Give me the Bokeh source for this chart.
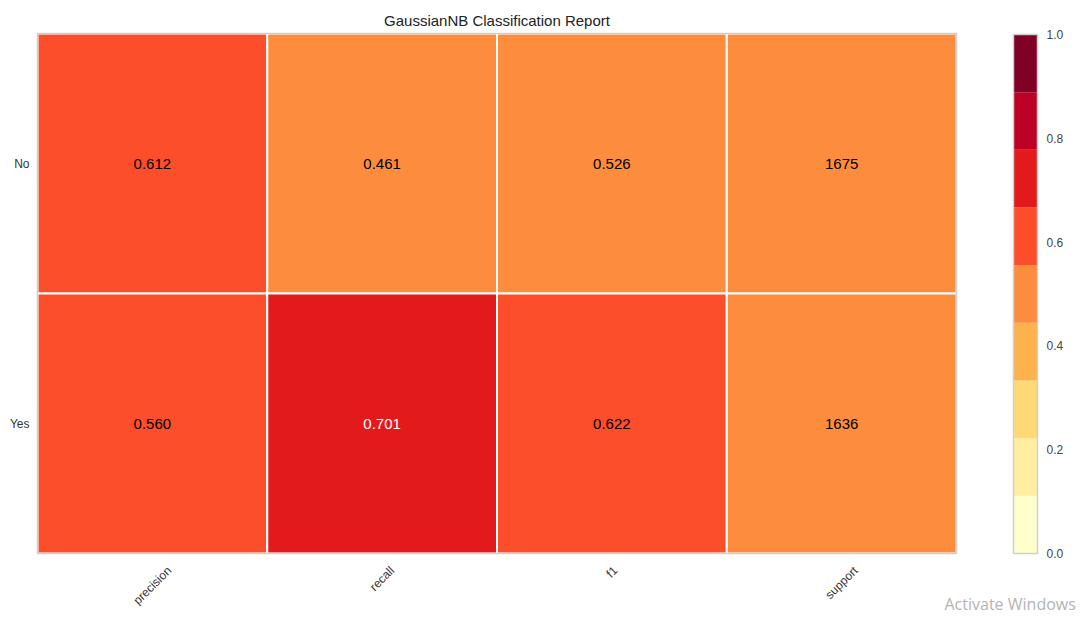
import numpy as np
from bokeh.plotting import figure
from bokeh.models import ColumnDataSource, LinearColorMapper, Range1d
from bokeh.palettes import YlOrRd9
from bokeh.core.properties import value
from bokeh.embed import file_html
from bokeh.resources import INLINE

# ---- report values -------------------------------------------------------
title_text = "GaussianNB Classification Report"
metrics = ["precision", "recall", "f1", "support"]
classes = ["No", "Yes"]
no_scores = [0.612, 0.461, 0.526, 1675]
yes_scores = [0.560, 0.701, 0.622, 1636]
cbar_ticks = [0.0, 0.2, 0.4, 0.6, 0.8, 1.0]
watermark = "Activate Windows"

FONT = "Liberation Sans"
palette = list(reversed(YlOrRd9))          # light -> dark
mapper = LinearColorMapper(palette=palette, low=0.0, high=1.0)

# ---- page geometry (pixels) ----------------------------------------------
W, H = 1089, 620
HL, HR, HT, HB = 37, 956, 33, 553          # heatmap box
CB_L, CB_R, CB_T = 1013, 1037, 34          # colour bar box
px_x = (HR - HL) / len(metrics)
px_y = (HB - HT) / len(classes)
px_c = HB - CB_T

def dx(px):
    return (px - HL) / px_x

def dy(px):
    return (HB - px) / px_y

# the drawing area covers the whole canvas; labels are drawn as glyphs
p = figure(width=W, height=H, output_backend="svg", toolbar_location=None,
           x_range=Range1d(dx(0), dx(W)), y_range=Range1d(dy(H), dy(0)),
           x_axis_location=None, y_axis_location=None,
           min_border=0, min_border_left=0, min_border_right=0,
           min_border_top=0, min_border_bottom=0)
p.extra_y_ranges = {"cbar": Range1d(-(H - HB) / px_c, 1 + CB_T / px_c)}
p.outline_line_color = None
p.grid.visible = False
p.background_fill_color = "white"
p.border_fill_color = "white"

# ---- heatmap cells -------------------------------------------------------
rows = {"No": no_scores, "Yes": yes_scores}
total_support = sum(rows[c][-1] for c in classes)

def text_color(v):
    idx = min(int(v * len(palette)), len(palette) - 1)
    c = palette[idx].lstrip("#")
    r, g, b = (int(c[i:i + 2], 16) / 255 for i in (0, 2, 4))
    lum = 0.299 * r + 0.587 * g + 0.114 * b
    return "black" if lum > 0.45 else "white"

xs, ys, norm, labels, tcol = [], [], [], [], []
for i, cls in enumerate(classes):
    row = len(classes) - 1 - i
    for j, m in enumerate(metrics):
        v = rows[cls][j]
        if m == "support":
            n = v / total_support
            lab = f"{v:d}"
        else:
            n = v
            lab = f"{v:.3f}"
        xs.append(j + 0.5)
        ys.append(row + 0.5)
        norm.append(n)
        labels.append(lab)
        tcol.append(text_color(n))

cells = ColumnDataSource(dict(x=xs, y=ys, norm=norm, label=labels, tcol=tcol))
p.rect(x="x", y="y", width=1, height=1, source=cells,
       fill_color={"field": "norm", "transform": mapper},
       line_color="white", line_width=2)
p.text(x="x", y="y", text="label", source=cells, text_color="tcol",
       text_font=value(FONT), text_font_size="15px",
       text_align="center", text_baseline="middle")

# outer border of heatmap
p.rect(x=len(metrics) / 2, y=len(classes) / 2, width=len(metrics),
       height=len(classes), fill_color=None, line_color="#cfcfcf", line_width=1.5)

# ---- class names on the left ---------------------------------------------
ylab = ColumnDataSource(dict(
    x=[dx(HL - 8)] * len(classes),
    y=[len(classes) - 1 - i + 0.5 for i in range(len(classes))],
    text=classes))
p.text(x="x", y="y", text="text", source=ylab, text_align="right",
       text_baseline="middle", text_font=value(FONT), text_font_size="12px",
       text_color="#333333")

# ---- metric names, rotated 45 degrees ------------------------------------
ARIAL_W = dict(p=.556, r=.333, e=.556, c=.5, i=.222, s=.5, o=.556, n=.556,
               a=.556, l=.222, f=.278, u=.556, t=.278)
ARIAL_W["1"] = .556
fs = 12
ink_h = 8.6
lab_top = 565
xl_y = []
for m in metrics:
    w = sum(ARIAL_W.get(ch, .55) for ch in m) * fs
    centre_px = lab_top + (w + ink_h) * np.sqrt(0.5) / 2
    xl_y.append(dy(centre_px))
xlab = ColumnDataSource(dict(x=[j + 0.5 for j in range(len(metrics))], y=xl_y, text=metrics))
p.text(x="x", y="y", text="text", source=xlab, angle=np.pi / 4,
       text_align="center", text_baseline="middle",
       text_font=value(FONT), text_font_size=f"{fs}px", text_color="#333333")

# ---- colour bar ----------------------------------------------------------
edges = np.linspace(0.0, 1.0, len(palette) + 1)
cb = ColumnDataSource(dict(bottom=edges[:-1], top=edges[1:],
                           mid=(edges[:-1] + edges[1:]) / 2))
p.quad(left=dx(CB_L), right=dx(CB_R), bottom="bottom", top="top", source=cb,
       fill_color={"field": "mid", "transform": mapper}, line_color=None,
       y_range_name="cbar")
p.quad(left=dx(CB_L), right=dx(CB_R), bottom=0, top=1, fill_color=None,
       line_color="#cfcfcf", line_width=1.5, y_range_name="cbar")
cbl = ColumnDataSource(dict(y=cbar_ticks, text=[f"{t:.1f}" for t in cbar_ticks]))
p.text(x=dx(1046), y="y", text="text", source=cbl, y_range_name="cbar",
       text_align="left", text_baseline="middle",
       text_font=value(FONT), text_font_size="12px", text_color="#444444")

# ---- title and watermark -------------------------------------------------
p.text(x=[len(metrics) / 2], y=[dy(20)], text=[title_text],
       text_align="center", text_baseline="middle",
       text_font=value(FONT), text_font_size="15px", text_color="#222222")
p.text(x=[dx(944)], y=[dy(603)], text=[watermark],
       text_align="left", text_baseline="middle",
       text_font=value("Open Sans"), text_font_size="16px", text_color="#b4b4b4")

open("out.html", "w").write(file_html(p, INLINE))
